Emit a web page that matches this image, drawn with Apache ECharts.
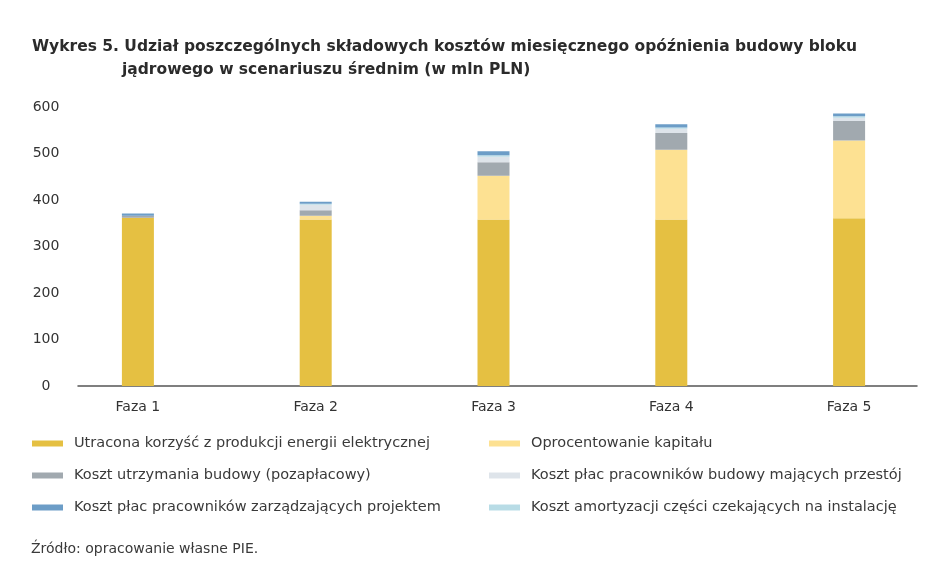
<!DOCTYPE html>
<html>
<head>
<meta charset="utf-8">
<script src="https://cdn.jsdelivr.net/npm/echarts@6/dist/echarts.min.js"></script>
<style>
  html, body { margin: 0; padding: 0; background: #fff; }
  #main { width: 948px; height: 576px; }
</style>
</head>
<body>
<div id="main"></div>
<script>
// dane (mln PLN)
var fazy = ['Faza 1', 'Faza 2', 'Faza 3', 'Faza 4', 'Faza 5'];
var utraconaKorzysc = [362, 358, 358, 358, 361];
var oprocentowanie = [0, 8, 94, 150, 167];
var utrzymanieBudowy = [4, 12, 29, 36, 42];
var placePrzestoj = [0, 12, 12, 9, 7];
var amortyzacja = [0, 2, 3, 3, 3];
var placeZarzad = [5, 4, 9, 7, 6];
var yTicks = [0, 100, 200, 300, 400, 500, 600];

var nazwy = [
  'Utracona korzyść z produkcji energii elektrycznej',
  'Oprocentowanie kapitału',
  'Koszt utrzymania budowy (pozapłacowy)',
  'Koszt płac pracowników budowy mających przestój',
  'Koszt płac pracowników zarządzających projektem',
  'Koszt amortyzacji części czekających na instalację'
];

var font = '"DejaVu Sans", "Noto Sans", sans-serif';
var myChart = echarts.init(document.getElementById('main'));

function seria(name, data, color) {
  return {
    name: name,
    type: 'bar',
    stack: 'koszty',
    barWidth: 32,
    data: data,
    itemStyle: { color: color },
    emphasis: { disabled: true }
  };
}

function legenda(left, items) {
  return {
    orient: 'vertical',
    left: left,
    top: 431,
    icon: 'rect',
    itemWidth: 31,
    itemHeight: 6,
    itemGap: 17,
    selectedMode: false,
    data: items,
    textStyle: {
      fontFamily: font,
      fontSize: 14.5,
      lineHeight: 14,
      color: '#3a3a3a',
      padding: [0, 0, 0, 6]
    }
  };
}

var option = {
  backgroundColor: '#ffffff',
  animation: false,
  title: [
    {
      text: 'Wykres 5. Udział poszczególnych składowych kosztów miesięcznego opóźnienia budowy bloku',
      left: 27,
      top: 34,
      textStyle: { fontFamily: font, fontSize: 15.5, fontWeight: 'bold', color: '#2b2b2b' }
    },
    {
      text: 'jądrowego w scenariuszu średnim (w mln PLN)',
      left: 117,
      top: 57,
      textStyle: { fontFamily: font, fontSize: 15.5, fontWeight: 'bold', color: '#2b2b2b' }
    },
    {
      text: 'Źródło: opracowanie własne PIE.',
      left: 26,
      top: 537,
      textStyle: { fontFamily: font, fontSize: 14, fontWeight: 'normal', color: '#3a3a3a' }
    }
  ],
  legend: [
    legenda(27, [nazwy[0], nazwy[2], nazwy[4]]),
    legenda(484, [nazwy[1], nazwy[3], nazwy[5]])
  ],
  grid: [
    { left: 49, right: 10, top: 107, bottom: 190 },
    { left: 78, right: 31, top: 107, bottom: 190 }
  ],
  xAxis: [
    {
      type: 'category',
      data: fazy,
      gridIndex: 0,
      axisLine: { show: false },
      axisTick: { show: false },
      axisLabel: {
        margin: 14,
        fontFamily: font,
        fontSize: 14,
        color: '#333'
      }
    },
    {
      type: 'value',
      gridIndex: 1,
      min: 0,
      max: 1,
      axisLine: { show: true, lineStyle: { color: '#555', width: 1.5 } },
      axisTick: { show: false },
      axisLabel: { show: false },
      splitLine: { show: false }
    }
  ],
  yAxis: [
    {
      type: 'value',
      gridIndex: 0,
      min: yTicks[0],
      max: yTicks[yTicks.length - 1],
      interval: 100,
      axisLine: { show: false },
      axisTick: { show: false },
      splitLine: { show: false },
      axisLabel: {
        align: 'center',
        margin: 3,
        fontFamily: font,
        fontSize: 14,
        color: '#333'
      }
    },
    { type: 'value', gridIndex: 1, show: false }
  ],
  series: [
    seria(nazwy[0], utraconaKorzysc, '#E5C042'),
    seria(nazwy[1], oprocentowanie, '#FDE192'),
    seria(nazwy[2], utrzymanieBudowy, '#A1A9AF'),
    seria(nazwy[3], placePrzestoj, '#DEE4EA'),
    seria(nazwy[5], amortyzacja, '#B8DCE6'),
    seria(nazwy[4], placeZarzad, '#6C9DC7')
  ]
};

myChart.setOption(option);
</script>
</body>
</html>
